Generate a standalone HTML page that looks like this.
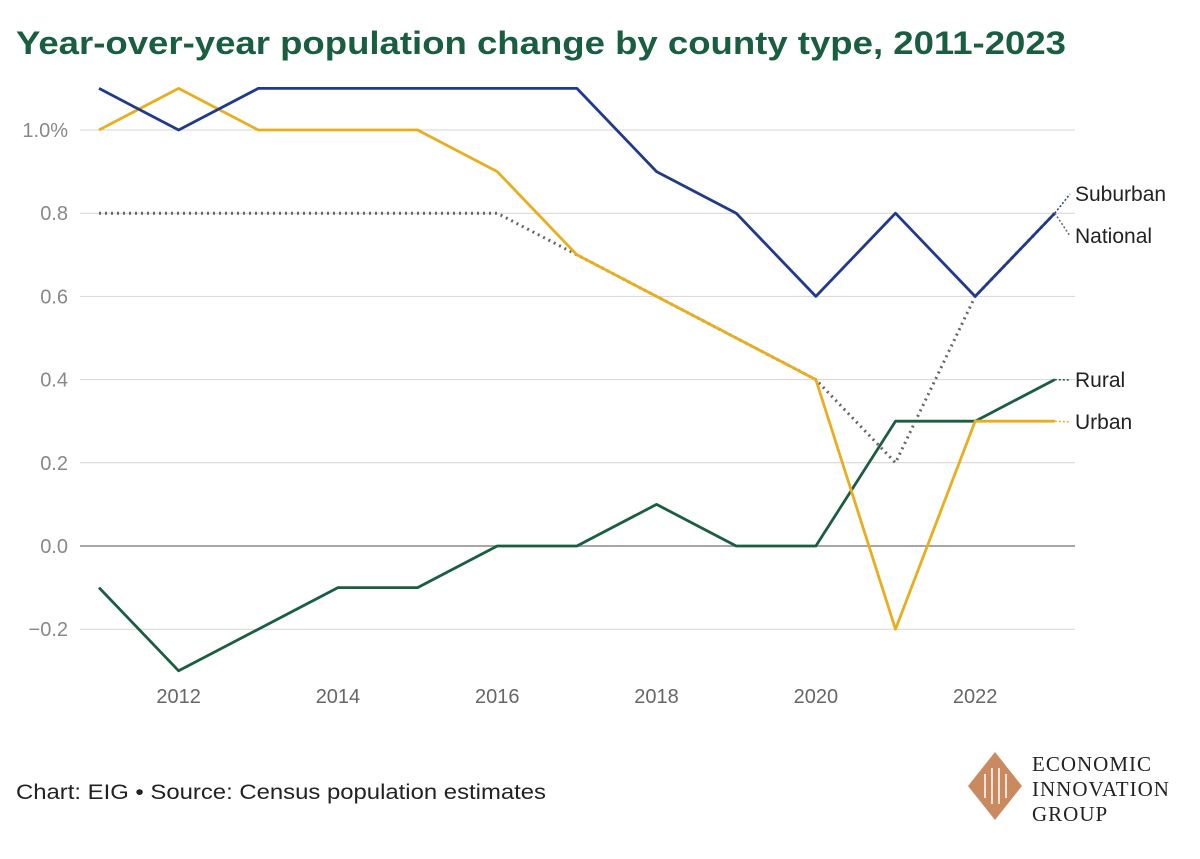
<!DOCTYPE html>
<html><head><meta charset="utf-8">
<style>
body{margin:0;background:#fff;width:1200px;height:854px;overflow:hidden;font-family:"Liberation Sans",sans-serif;}
</style></head>
<body>
<svg id="chart" width="1200" height="854" xmlns="http://www.w3.org/2000/svg">
<text x="16" y="54" font-size="32" font-weight="bold" fill="#1a5e42" textLength="1050" lengthAdjust="spacingAndGlyphs">Year-over-year population change by county type, 2011-2023</text>
<g id="grid"></g>
<g id="series"></g>
<g id="labels"></g>
<text x="16" y="799" font-size="21" fill="#222" textLength="530" lengthAdjust="spacingAndGlyphs">Chart: EIG • Source: Census population estimates</text>
<g>
<polygon points="995,752 1022,786 995,820 968,786" fill="#c98a60"/>
<path d="M985,774 v24 M992,768 v36 M999,768 v36 M1006,774 v24" stroke="#fff" stroke-width="1.5" fill="none"/>
<text x="1032" y="771" font-family="Liberation Serif,serif" font-size="21" fill="#222" letter-spacing="1">ECONOMIC</text>
<text x="1032" y="796" font-family="Liberation Serif,serif" font-size="21" fill="#222" letter-spacing="1">INNOVATION</text>
<text x="1032" y="821" font-family="Liberation Serif,serif" font-size="21" fill="#222" letter-spacing="1">GROUP</text>
</g>
</svg>
<script>
const years=[2011,2012,2013,2014,2015,2016,2017,2018,2019,2020,2021,2022,2023];
const suburban=[1.1,1.0,1.1,1.1,1.1,1.1,1.1,0.9,0.8,0.6,0.8,0.6,0.8];
const urban=[1.0,1.1,1.0,1.0,1.0,0.9,0.7,0.6,0.5,0.4,-0.2,0.3,0.3];
const national=[0.8,0.8,0.8,0.8,0.8,0.8,0.7,0.6,0.5,0.4,0.2,0.6,0.8];
const rural=[-0.1,-0.3,-0.2,-0.1,-0.1,0,0,0.1,0,0,0.3,0.3,0.4];
const yTicks=[-0.2,0,0.2,0.4,0.6,0.8,1.0];
const yTickLabels=["−0.2","0.0","0.2","0.4","0.6","0.8","1.0%"];
const xTicks=[2012,2014,2016,2018,2020,2022];
const NS="http://www.w3.org/2000/svg";
const x=v=>99+(v-2011)*79.65;
const y=v=>546-v*416;
function mk(tag,attrs,parent){const e=document.createElementNS(NS,tag);for(const k in attrs)e.setAttribute(k,attrs[k]);parent.appendChild(e);return e;}
const grid=document.getElementById('grid');
yTicks.forEach((t,i)=>{
 const l=mk('line',{x1:80,x2:1075,y1:y(t),y2:y(t),stroke:t===0?'#888':'#d4d4d4','stroke-width':t===0?1.5:1},grid);
 
 
 const tx=mk('text',{x:68,y:y(t)+7,'text-anchor':'end','font-size':20,fill:'#888'},grid);
 tx.textContent=yTickLabels[i];
 
 
});
xTicks.forEach(t=>{
 const tx=mk('text',{x:x(t),y:703,'text-anchor':'middle','font-size':20,fill:'#666'},grid);
 tx.textContent=t;
 
 
});
const S=document.getElementById('series');
function line(vals,color,dash,name){
 const p=mk('polyline',{points:vals.map((v,i)=>x(years[i])+','+y(v)).join(' '),fill:'none',stroke:color,'stroke-width':dash?3:2.8,'stroke-dasharray':dash?'2 4':'none','stroke-linejoin':'round'},S);
 
 
}
line(national,'#666',true,'national-line');
line(rural,'#1a5e42',false,'rural-line');
line(urban,'#e8ae1e',false,'urban-line');
line(suburban,'#1f3a8a',false,'suburban-line');
const L=document.getElementById('labels');
function lab(text,val,ly,color){
 const e=mk('line',{x1:x(2023),y1:y(val),x2:1070,y2:ly,stroke:color,'stroke-width':1.5,'stroke-dasharray':'2 2'},L);
 
 
 const t=mk('text',{x:1075,y:ly+7,'font-size':21,fill:'#222'},L);
 t.textContent=text;
 
 
}
lab('Suburban',suburban[12],194,'#1f3a8a');
lab('National',national[12],236,'#666');
lab('Rural',rural[12],380,'#1a5e42');
lab('Urban',urban[12],422,'#e8ae1e');
</script>
</body></html>
